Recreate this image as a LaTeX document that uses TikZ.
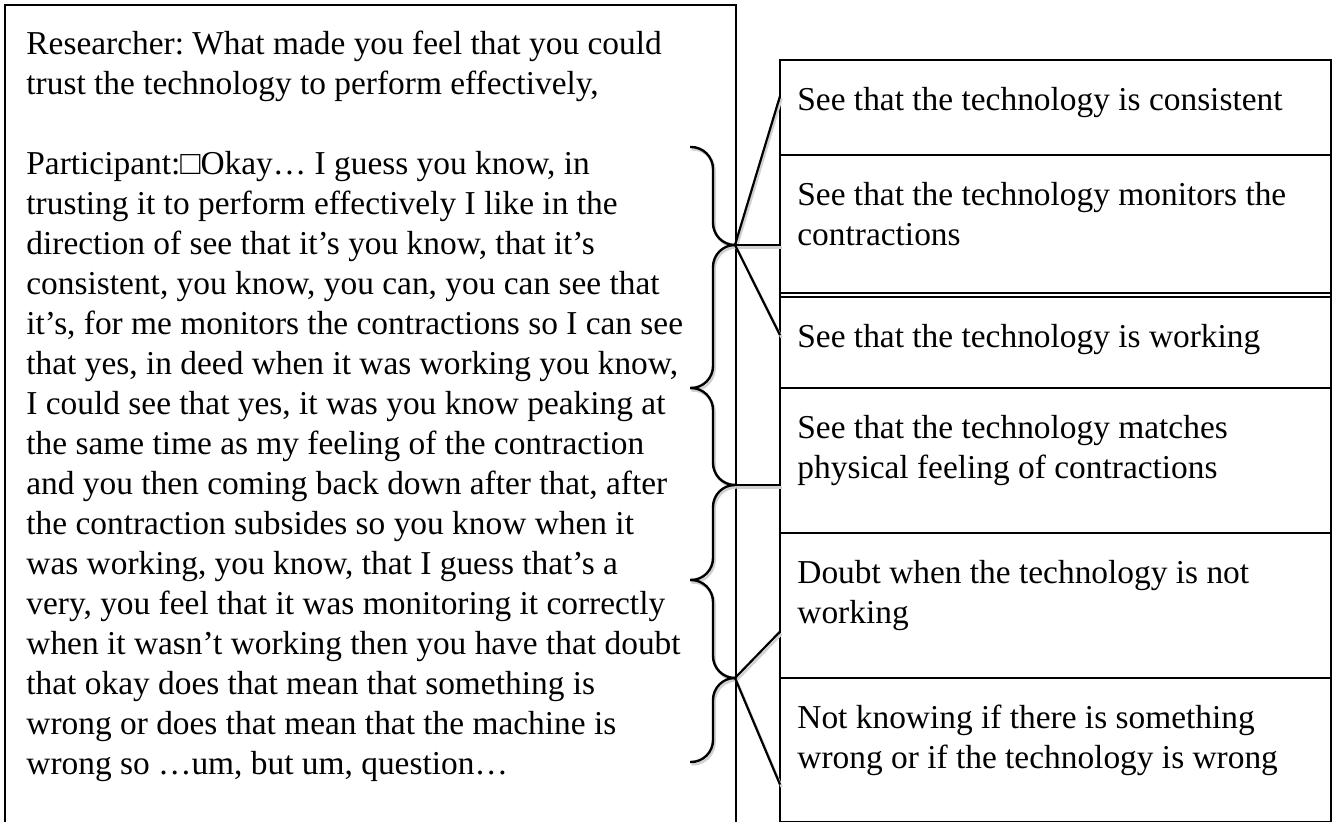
\documentclass[tikz,border=0pt]{standalone}
\usepackage{fontspec}
\setmainfont{Liberation Serif}
\frenchspacing
\usetikzlibrary{positioning}
\usetikzlibrary{calc}

\tikzset{
  talkframe/.style={draw, line width=0.6pt, anchor=north west, inner sep=0pt, outer sep=0pt},
  codebox/.style={draw, line width=1.1pt, anchor=north west, inner sep=0pt, outer sep=0pt, minimum width=275.5pt},
  codetext/.style={anchor=north west, inner sep=0pt, align=left},
  shadowed/.style={preaction={draw=black!18, line width=1.2pt, transform canvas={shift={(0.8pt,-1.2pt)}}}},
  curly/.style={line width=1.2pt, rounded corners=11pt, shadowed},
  link/.style={line width=1.1pt, shadowed},
}

\begin{document}
\begin{tikzpicture}[x=0.5pt, y=-0.5pt, every node/.style={font=\fontsize{16.7pt}{20pt}\selectfont}]
    \useasboundingbox (0,0) rectangle (1336,822);
    \clip (0,0) rectangle (1336,822);

    % interview excerpt
    \node[talkframe, minimum width=365.5pt, minimum height=420pt] (frame) at (5,5) {};
    \node[codetext] (talk) at (26,31) {Researcher: What made you feel that you could\\
        trust the technology to perform effectively,\\[20pt]
        Participant:□Okay… I guess you know, in\\
        trusting it to perform effectively I like in the\\
        direction of see that it’s you know, that it’s\\
        consistent, you know, you can, you can see that\\
        it’s, for me monitors the contractions so I can see\\
        that yes, in deed when it was working you know,\\
        I could see that yes, it was you know peaking at\\
        the same time as my feeling of the contraction\\
        and you then coming back down after that, after\\
        the contraction subsides so you know when it\\
        was working, you know, that I guess that’s a\\
        very, you feel that it was monitoring it correctly\\
        when it wasn’t working then you have that doubt\\
        that okay does that mean that something is\\
        wrong or does that mean that the machine is\\
        wrong so …um, but um, question…};

    % codes
    \foreach \n/\ya/\yb in {1/60/155, 2/155/297, 3/297/388, 4/388/533, 5/533/678, 6/678/822} {
        \pgfmathsetmacro\h{(\yb-\ya)/2}
        \node[codebox, minimum height=\h pt] (c\n) at (780,\ya) {};
    }
    \draw[line width=0.6pt] ([yshift=2pt]c2.south west) -- ([yshift=2pt]c2.south east);
    \foreach \n/\txt in {1/{See that the technology is consistent},
        2/{See that the technology monitors the\\contractions},
        3/{See that the technology is working},
        4/{See that the technology matches\\physical feeling of contractions},
        5/{Doubt when the technology is not\\working},
        6/{Not knowing if there is something\\wrong or if the technology is wrong}} {
        \node[codetext] (t\n) at ([shift={(17,27)}]c\n.north west) {\txt};
    }

    % braces
    \foreach \n/\ya/\ym/\yb in {A/147/245/388, B/388/485/580, C/580/678/762} {
        \coordinate (tip\n) at (735,\ym);
        \draw[curly] (690,\ya) -- (713,\ya) -- (713,\ym) -- (tip\n);
        \draw[curly] (tip\n) -- (713,\ym) -- (713,\yb) -- (690,\yb);
    }

    \draw[link] (tipA) -- ($(c1.north west)!0.38!(c1.south west)$);
    \draw[link] (tipA) -- (tipA -| c2.west);
    \draw[link] (tipA) -- ($(c3.north west)!0.42!(c3.south west)$);
    \draw[link] (tipB) -- (tipB -| c4.west);
    \draw[link] (tipC) -- ($(c5.north west)!0.68!(c5.south west)$);
    \draw[link] (tipC) -- ($(c6.north west)!0.74!(c6.south west)$);
\end{tikzpicture}
\end{document}
